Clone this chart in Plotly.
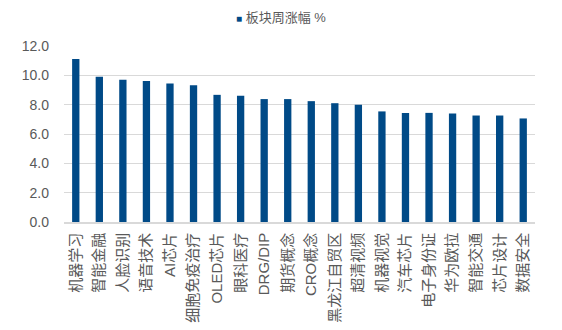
import plotly.graph_objects as go

categories = ["机器学习", "智能金融", "人脸识别", "语音技术", "AI芯片", "细胞免疫治疗",
              "OLED芯片", "眼科医疗", "DRG/DIP", "期货概念", "CRO概念", "黑龙江自贸区",
              "超清视频", "机器视觉", "汽车芯片", "电子身份证", "华为欧拉", "智能交通",
              "芯片设计", "数据安全"]
values = [11.11, 9.9, 9.7, 9.61, 9.45, 9.33, 8.67, 8.6, 8.38, 8.38, 8.24, 8.1,
          7.99, 7.54, 7.44, 7.44, 7.4, 7.26, 7.26, 7.06]
series_name = "板块周涨幅 %"
y_ticks = [0, 2, 4, 6, 8, 10, 12]

BAR = "#004A87"
FONT = "Liberation Sans, Noto Sans CJK SC"

fig = go.Figure()
fig.add_trace(go.Bar(x=categories, y=values, name=series_name,
                     marker=dict(color=BAR, line=dict(width=0))))

fig.update_layout(
    width=562, height=330,
    margin=dict(l=64, r=27, t=46, b=108),
    paper_bgcolor="white", plot_bgcolor="white",
    bargap=0.69,
    showlegend=False,
    font=dict(family=FONT, size=12, color="#595959"),
)
# legend drawn as a text entry (single series)
fig.add_annotation(
    xref="paper", yref="paper", x=0.46, y=1.0, yshift=29, xanchor="center", yanchor="middle",
    showarrow=False,
    text=f"<span style='color:{BAR};font-size:10px'>■</span> {series_name}",
    font=dict(family=FONT, size=13, color="#595959"),
)
fig.update_xaxes(tickangle=-90, showline=True, linecolor="#D9D9D9", linewidth=1.5,
                 ticks="", ticklabelstandoff=3, automargin=False,
                 tickfont=dict(family=FONT, size=15, color="#595959"))
fig.update_yaxes(range=[0, 12], tickvals=y_ticks, automargin=False,
                 ticktext=[f"{v:.1f}" for v in y_ticks],
                 showgrid=True, gridcolor="#D9D9D9", gridwidth=1, zeroline=False,
                 tickfont=dict(family="Liberation Sans", size=14, color="#595959"),
                 ticklabelstandoff=14)

fig.write_html("out.html")
